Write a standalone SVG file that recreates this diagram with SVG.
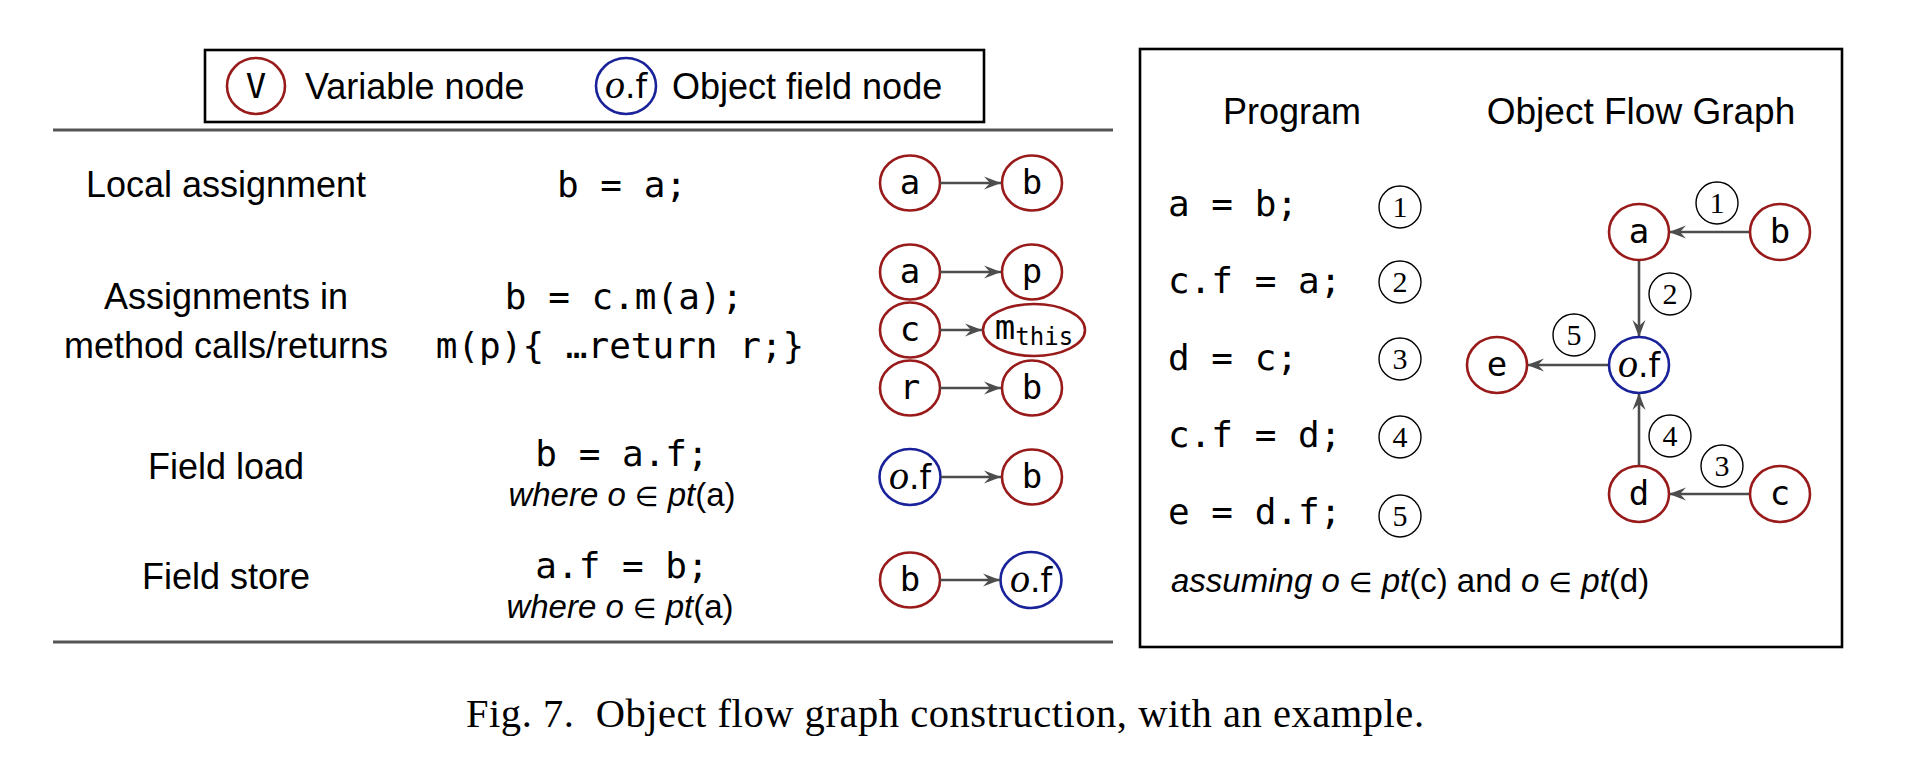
<svg xmlns="http://www.w3.org/2000/svg" width="1924" height="769" viewBox="0 0 1924 769">
<defs>
<style>
.sans{font-family:"Liberation Sans","DejaVu Sans",sans-serif;font-size:36px;fill:#000}
.it{font-style:italic}
.el{font-family:"DejaVu Sans",sans-serif;font-size:27px;font-style:normal}
.mono{font-family:"DejaVu Sans Mono","Liberation Mono",monospace;font-size:36px;fill:#000}
.nl{font-family:"DejaVu Sans Mono","Liberation Mono",monospace;font-size:34px;fill:#000;text-anchor:middle}
.oit{font-family:"Liberation Serif","DejaVu Serif",serif;font-style:italic;font-size:40px}
.dotf{font-family:"DejaVu Sans",sans-serif;font-size:33px}
.cap{font-family:"Liberation Serif","DejaVu Serif",serif;font-size:40.5px;fill:#000}
.var{fill:#fff;stroke:#991a1a;stroke-width:2.6}
.fld{fill:#fff;stroke:#1a2299;stroke-width:2.6}
.edge{stroke:#4d4d4d;stroke-width:2.6;fill:none;marker-end:url(#ah)}
.num circle{fill:#fff;stroke:#000;stroke-width:1.4}
.num text{font-family:"Liberation Serif","DejaVu Serif",serif;font-size:30px;text-anchor:middle;fill:#000}
.mid{text-anchor:middle}
</style>
<marker id="ah" markerUnits="userSpaceOnUse" markerWidth="20" markerHeight="16" viewBox="-18 -8 20 16" refX="0" refY="0" orient="auto">
<path d="M0,0 L-17,-6.5 L-11,0 L-17,6.5 Z" fill="#4d4d4d"/>
</marker>
</defs>
<rect width="1924" height="769" fill="#fff"/>

<!-- legend -->
<g id="legend">
<rect x="205" y="50" width="779" height="72" fill="none" stroke="#000" stroke-width="2.6"/>
<ellipse class="var" cx="256" cy="86" rx="29" ry="28"/>
<text class="nl" x="256" y="98">V</text>
<text class="sans" x="305" y="99">Variable node</text>
<ellipse class="fld" cx="626" cy="86" rx="30" ry="28"/>
<text class="nl" x="626" y="98"><tspan class="oit">o</tspan><tspan class="dotf">.f</tspan></text>
<text class="sans" x="672" y="99">Object field node</text>
</g>

<!-- rules -->
<g id="rules">
<line x1="53" y1="130" x2="1113" y2="130" stroke="#555" stroke-width="3.2"/>
<line x1="53" y1="642" x2="1113" y2="642" stroke="#555" stroke-width="3.2"/>
</g>

<!-- row labels -->
<g id="row-labels" class="sans mid">
<text x="226" y="197">Local assignment</text>
<text x="226" y="309">Assignments in</text>
<text x="226" y="358">method calls/returns</text>
<text x="226" y="479">Field load</text>
<text x="226" y="589">Field store</text>
</g>

<!-- code column -->
<g id="code" class="mono mid">
<text x="622" y="197" xml:space="preserve">b = a;</text>
<text x="624" y="309" xml:space="preserve">b = c.m(a);</text>
<text x="620" y="358" xml:space="preserve">m(p){ …return r;}</text>
<text x="622" y="466" xml:space="preserve">b = a.f;</text>
<text x="622" y="578" xml:space="preserve">a.f = b;</text>
</g>
<g id="where" class="sans mid" style="font-size:33px">
<text x="622" y="506"><tspan class="it">where o</tspan> <tspan class="el">∈</tspan> <tspan class="it">pt</tspan>(a)</text>
<text x="620" y="618"><tspan class="it">where o</tspan> <tspan class="el">∈</tspan> <tspan class="it">pt</tspan>(a)</text>
</g>

<!-- left column nodes -->
<g id="r1-a"><ellipse class="var" cx="910" cy="183" rx="30" ry="27.5"/><text class="nl" x="910" y="194">a</text></g>
<g id="r1-b"><ellipse class="var" cx="1032" cy="183" rx="30" ry="27.5"/><text class="nl" x="1032" y="194">b</text></g>
<g id="r2-a"><ellipse class="var" cx="910" cy="272" rx="30" ry="27.5"/><text class="nl" x="910" y="283">a</text></g>
<g id="r2-p"><ellipse class="var" cx="1032" cy="272" rx="30" ry="27.5"/><text class="nl" x="1032" y="283">p</text></g>
<g id="r2-c"><ellipse class="var" cx="910" cy="330" rx="30" ry="27.5"/><text class="nl" x="910" y="341">c</text></g>
<g id="r2-m"><ellipse class="var" cx="1034" cy="330" rx="51" ry="26"/><text class="nl" x="1034" y="339">m<tspan style="font-size:24px" dy="6">this</tspan></text></g>
<g id="r2-r"><ellipse class="var" cx="910" cy="388" rx="30" ry="27.5"/><text class="nl" x="910" y="399">r</text></g>
<g id="r2-b"><ellipse class="var" cx="1032" cy="388" rx="30" ry="27.5"/><text class="nl" x="1032" y="399">b</text></g>
<g id="r3-of"><ellipse class="fld" cx="910" cy="477" rx="30.5" ry="28"/><text class="nl" x="910" y="489"><tspan class="oit">o</tspan><tspan class="dotf">.f</tspan></text></g>
<g id="r3-b"><ellipse class="var" cx="1032" cy="477" rx="30" ry="27.5"/><text class="nl" x="1032" y="488">b</text></g>
<g id="r4-b"><ellipse class="var" cx="910" cy="580" rx="30" ry="27.5"/><text class="nl" x="910" y="591">b</text></g>
<g id="r4-of"><ellipse class="fld" cx="1031" cy="580" rx="30.5" ry="28"/><text class="nl" x="1031" y="592"><tspan class="oit">o</tspan><tspan class="dotf">.f</tspan></text></g>

<!-- right box -->
<g id="example-box">
<rect x="1140" y="49" width="702" height="598" fill="none" stroke="#000" stroke-width="2.6"/>
<text class="sans mid" x="1292" y="124">Program</text>
<text class="sans mid" x="1641" y="124" style="font-size:37px">Object Flow Graph</text>
</g>
<g id="program" class="mono">
<text x="1168" y="216" xml:space="preserve">a = b;</text>
<text x="1168" y="293" xml:space="preserve">c.f = a;</text>
<text x="1168" y="370" xml:space="preserve">d = c;</text>
<text x="1168" y="447" xml:space="preserve">c.f = d;</text>
<text x="1168" y="524" xml:space="preserve">e = d.f;</text>
</g>
<g id="program-steps" class="num">
<g><circle cx="1400" cy="207" r="21"/><text x="1400" y="217">1</text></g>
<g><circle cx="1400" cy="282" r="21"/><text x="1400" y="292">2</text></g>
<g><circle cx="1400" cy="359" r="21"/><text x="1400" y="369">3</text></g>
<g><circle cx="1400" cy="437" r="21"/><text x="1400" y="447">4</text></g>
<g><circle cx="1400" cy="516" r="21"/><text x="1400" y="526">5</text></g>
</g>
<text id="assuming" class="sans" style="font-size:33px" x="1171" y="592"><tspan class="it">assuming o</tspan> <tspan class="el">∈</tspan> <tspan class="it">pt</tspan>(c) and <tspan class="it">o</tspan> <tspan class="el">∈</tspan> <tspan class="it">pt</tspan>(d)</text>

<!-- connectors -->
<g id="connectors">
<line class="edge" x1="940" y1="183" x2="1001" y2="183"/>
<line class="edge" x1="940" y1="272" x2="1001" y2="272"/>
<line class="edge" x1="940" y1="330" x2="982" y2="330"/>
<line class="edge" x1="940" y1="388" x2="1001" y2="388"/>
<line class="edge" x1="941" y1="477" x2="1001" y2="477"/>
<line class="edge" x1="940" y1="580" x2="1000" y2="580"/>
<line class="edge" x1="1750" y1="232" x2="1669" y2="232"/>
<line class="edge" x1="1639" y1="260" x2="1639" y2="337"/>
<line class="edge" x1="1609" y1="365" x2="1527" y2="365"/>
<line class="edge" x1="1639" y1="466" x2="1639" y2="393"/>
<line class="edge" x1="1750" y1="494" x2="1669" y2="494"/>
</g>
<g id="edge-labels" class="num">
<g><circle cx="1717" cy="203" r="21"/><text x="1717" y="213">1</text></g>
<g><circle cx="1670" cy="294" r="21"/><text x="1670" y="304">2</text></g>
<g><circle cx="1574" cy="335" r="21"/><text x="1574" y="345">5</text></g>
<g><circle cx="1670" cy="436" r="21"/><text x="1670" y="446">4</text></g>
<g><circle cx="1722" cy="466" r="21"/><text x="1722" y="476">3</text></g>
</g>

<!-- graph nodes -->
<g id="g-a"><ellipse class="var" cx="1639" cy="232" rx="30" ry="28"/><text class="nl" x="1639" y="243">a</text></g>
<g id="g-b"><ellipse class="var" cx="1780" cy="232" rx="30" ry="28"/><text class="nl" x="1780" y="243">b</text></g>
<g id="g-of"><ellipse class="fld" cx="1639" cy="365" rx="30" ry="28"/><text class="nl" x="1639" y="377"><tspan class="oit">o</tspan><tspan class="dotf">.f</tspan></text></g>
<g id="g-e"><ellipse class="var" cx="1497" cy="365" rx="30" ry="28"/><text class="nl" x="1497" y="376">e</text></g>
<g id="g-d"><ellipse class="var" cx="1639" cy="494" rx="30" ry="28"/><text class="nl" x="1639" y="505">d</text></g>
<g id="g-c"><ellipse class="var" cx="1780" cy="494" rx="30" ry="28"/><text class="nl" x="1780" y="505">c</text></g>

<text id="caption" class="cap mid" x="945" y="727" textLength="958" lengthAdjust="spacing" xml:space="preserve">Fig. 7.  Object flow graph construction, with an example.</text>
</svg>
